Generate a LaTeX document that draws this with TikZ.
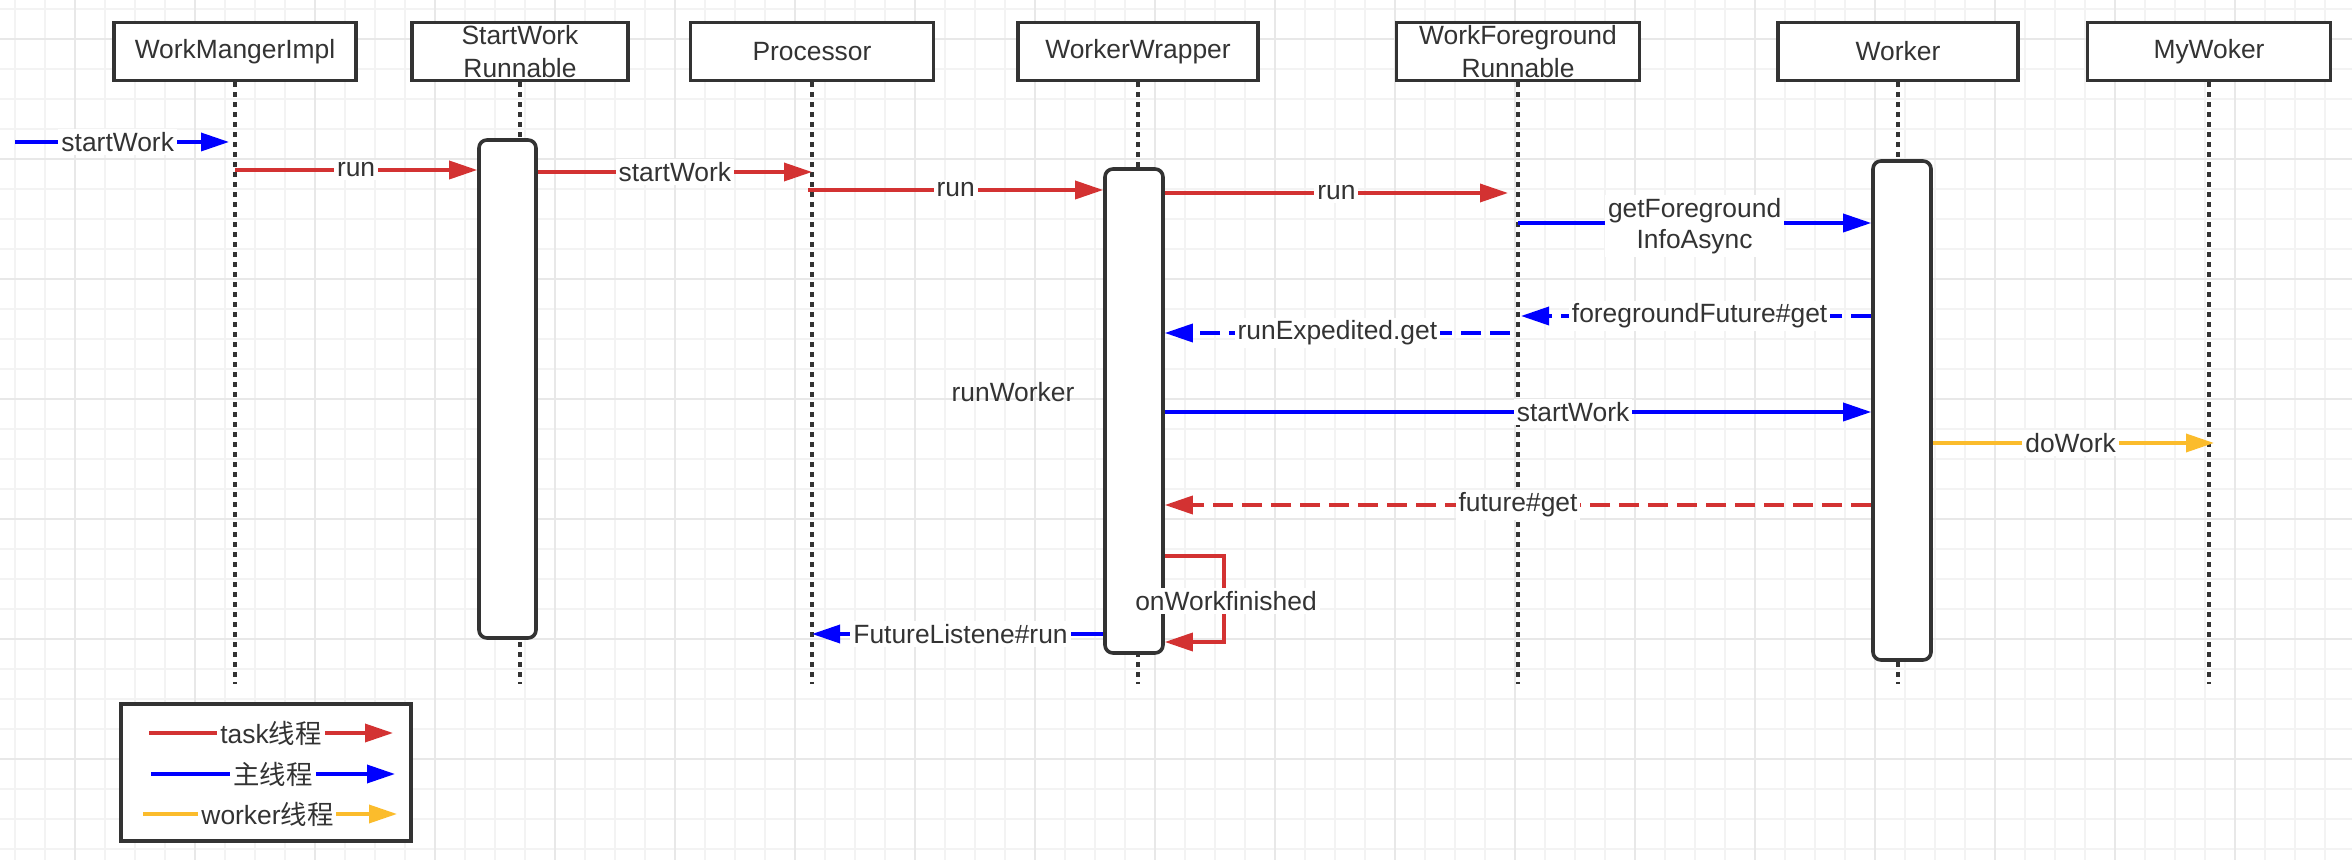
\documentclass[tikz,border=0pt]{standalone}
\usepackage{fontspec}
\setmainfont{Liberation Sans}
\newfontfamily\cjk{Noto Sans CJK SC}
\usetikzlibrary{arrows.meta}
\definecolor{ink}{HTML}{333333}
\definecolor{tred}{HTML}{D33232}
\definecolor{mblue}{HTML}{0000FF}
\definecolor{worange}{HTML}{FBBC2C}
\definecolor{gminor}{HTML}{F3F3F3}
\definecolor{gmajor}{HTML}{E8E8E8}
\begin{document}
\begin{tikzpicture}[x=0.5pt,y=-0.5pt,
  txt/.style={font=\fontsize{13.2}{16.5}\selectfont, text=ink},
  head/.style={txt, draw=ink, line width=1.8pt, fill=white, minimum height=29pt, inner sep=0pt, align=center},
  lifeln/.style={draw=ink, line width=2pt, dash pattern=on 2.2pt off 2.8pt},
  actbox/.style={draw=ink, line width=1.8pt, fill=white, rounded corners=4pt, inner sep=0pt},
  msg/.style={line width=1.75pt, -{Triangle[length=14pt,width=9pt]}},
  lbl/.style={txt, fill=white, inner sep=1.5pt},
  dsh/.style={dash pattern=on 10pt off 4.5pt},
  gmin/.style={draw=gminor, line width=0.55pt},
  gmaj/.style={draw=gmajor, line width=0.8pt},
]
\useasboundingbox (0,0) rectangle (2352,860);
\fill[white] (0,0) rectangle (2352,860);
% grid
\foreach \k in {0,...,78} \draw[gmin] ({15+30*\k},0) -- ({15+30*\k},860);
\foreach \k in {0,...,28} \draw[gmin] (0,{9+30*\k}) -- (2352,{9+30*\k});
\foreach \k in {0,...,19} \draw[gmaj] ({75+120*\k},0) -- ({75+120*\k},860);
\foreach \k in {0,...,7} \draw[gmaj] (0,{39+120*\k}) -- (2352,{39+120*\k});

% headers
\node[head, minimum width=121pt] (h1) at (235,51.5) {WorkMangerImpl};
\node[head, minimum width=108pt] (h2) at (520,51.5) {StartWork\\Runnable};
\node[head, minimum width=121.5pt] (h3) at (812,51.5) {Processor};
\node[head, minimum width=120pt] (h4) at (1138,51.5) {WorkerWrapper};
\node[head, minimum width=121.5pt] (h5) at (1518,51.5) {WorkForeground\\Runnable};
\node[head, minimum width=120pt] (h6) at (1898,51.5) {Worker};
\node[head, minimum width=121.5pt] (h7) at (2209,51.5) {MyWoker};

% lifelines
\coordinate (bot) at (0,684);
\foreach \h in {h1,h2,h3,h4,h5,h6,h7}
  \draw[lifeln] (\h.south) -- (\h.south |- bot);

% activation boxes
\node[actbox, minimum width=28.5pt, minimum height=249pt] (a2) at (507.5,389) {};
\node[actbox, minimum width=29pt, minimum height=242pt] (a4) at (1134,411) {};
\node[actbox, minimum width=29pt, minimum height=249.5pt] (a6) at (1902,410.5) {};

% 1 startWork
\coordinate (s1) at (15,142);
\coordinate (e1) at (229,142);
\draw[msg,mblue] (s1) -- (e1) node[lbl,pos=.48] (t1) {startWork};
% 2 run
\coordinate (s2) at (235,170);
\draw[msg,tred] (s2) -- (s2 -| a2.west) node[lbl,pos=.5] (t2) {run};
% 3 startWork
\coordinate (e3) at (812,172);
\draw[msg,tred] (e3 -| a2.east) -- (e3) node[lbl,pos=.5] (t3) {startWork};
% 4 run
\coordinate (s4) at (808,190);
\draw[msg,tred] (s4) -- (s4 -| a4.west) node[lbl,pos=.5] (t4) {run};
% 5 run
\coordinate (e5) at (1508,193);
\draw[msg,tred] (e5 -| a4.east) -- (e5) node[lbl,pos=.5] (t5) {run};
% 6 getForegroundInfoAsync
\coordinate (s6) at (1518,223);
\draw[msg,mblue] (s6) -- (s6 -| a6.west) node[lbl,pos=.5,align=center,yshift=-1.5pt,font=\fontsize{13.2}{15.5}\selectfont] (t6) {getForeground\\InfoAsync};
% 7 foregroundFuture#get
\coordinate (e7) at (1521,316);
\draw[msg,mblue,dsh] (e7 -| a6.west) -- (e7) node[lbl,pos=.49] (t7) {foregroundFuture\#get};
% 8 runExpedited.get
\coordinate (s8) at (1510,333);
\draw[msg,mblue,dsh] (s8) -- (s8 -| a4.east) node[lbl,pos=.5] (t8) {runExpedited.get};
% 9 runWorker
\node[txt] (rw) at (1013,392) {runWorker};
% 10 startWork
\coordinate (y10) at (0,412);
\draw[msg,mblue] (y10 -| a4.east) -- (y10 -| a6.west) node[lbl,pos=.578] (t10) {startWork};
% 11 doWork
\coordinate (e11) at (2214,443);
\draw[msg,worange] (e11 -| a6.east) -- (e11) node[lbl,pos=.49] (t11) {doWork};
% 12 future#get
\coordinate (y12) at (0,505);
\draw[msg,tred,dsh] (y12 -| a6.west) -- (y12 -| a4.east) node[lbl,pos=.5] (t12) {future\#get};
% 13 onWorkfinished loop
\coordinate (y13a) at (0,556);
\coordinate (y13b) at (0,642);
\coordinate (xl) at (1224,0);
\draw[msg,tred] (y13a -| a4.east) -| (xl |- y13b) -- (y13b -| a4.east);
\node[lbl] (t13) at (1226,601) {onWorkfinished};
% 14 FutureListene#run
\coordinate (e14) at (812,634);
\draw[msg,mblue] (e14 -| a4.west) -- (e14) node[lbl,pos=.49] (t14) {FutureListene\#run};

% legend
\node[draw=ink, line width=1.8pt, fill=white, minimum width=145pt, minimum height=68.5pt, inner sep=0pt] (leg) at (266,772.5) {};
\coordinate (ra) at (149,733); \coordinate (rb) at (393,733);
\draw[msg,tred] (ra) -- (rb) node[lbl,pos=.5] (lg1) {task{\cjk 线程}};
\coordinate (ba) at (151,774); \coordinate (bb) at (395,774);
\draw[msg,mblue] (ba) -- (bb) node[lbl,pos=.5] (lg2) {{\cjk 主线程}};
\coordinate (oa) at (143,814); \coordinate (ob) at (397,814);
\draw[msg,worange] (oa) -- (ob) node[lbl,pos=.49] (lg3) {worker{\cjk 线程}};
\end{tikzpicture}
\end{document}
